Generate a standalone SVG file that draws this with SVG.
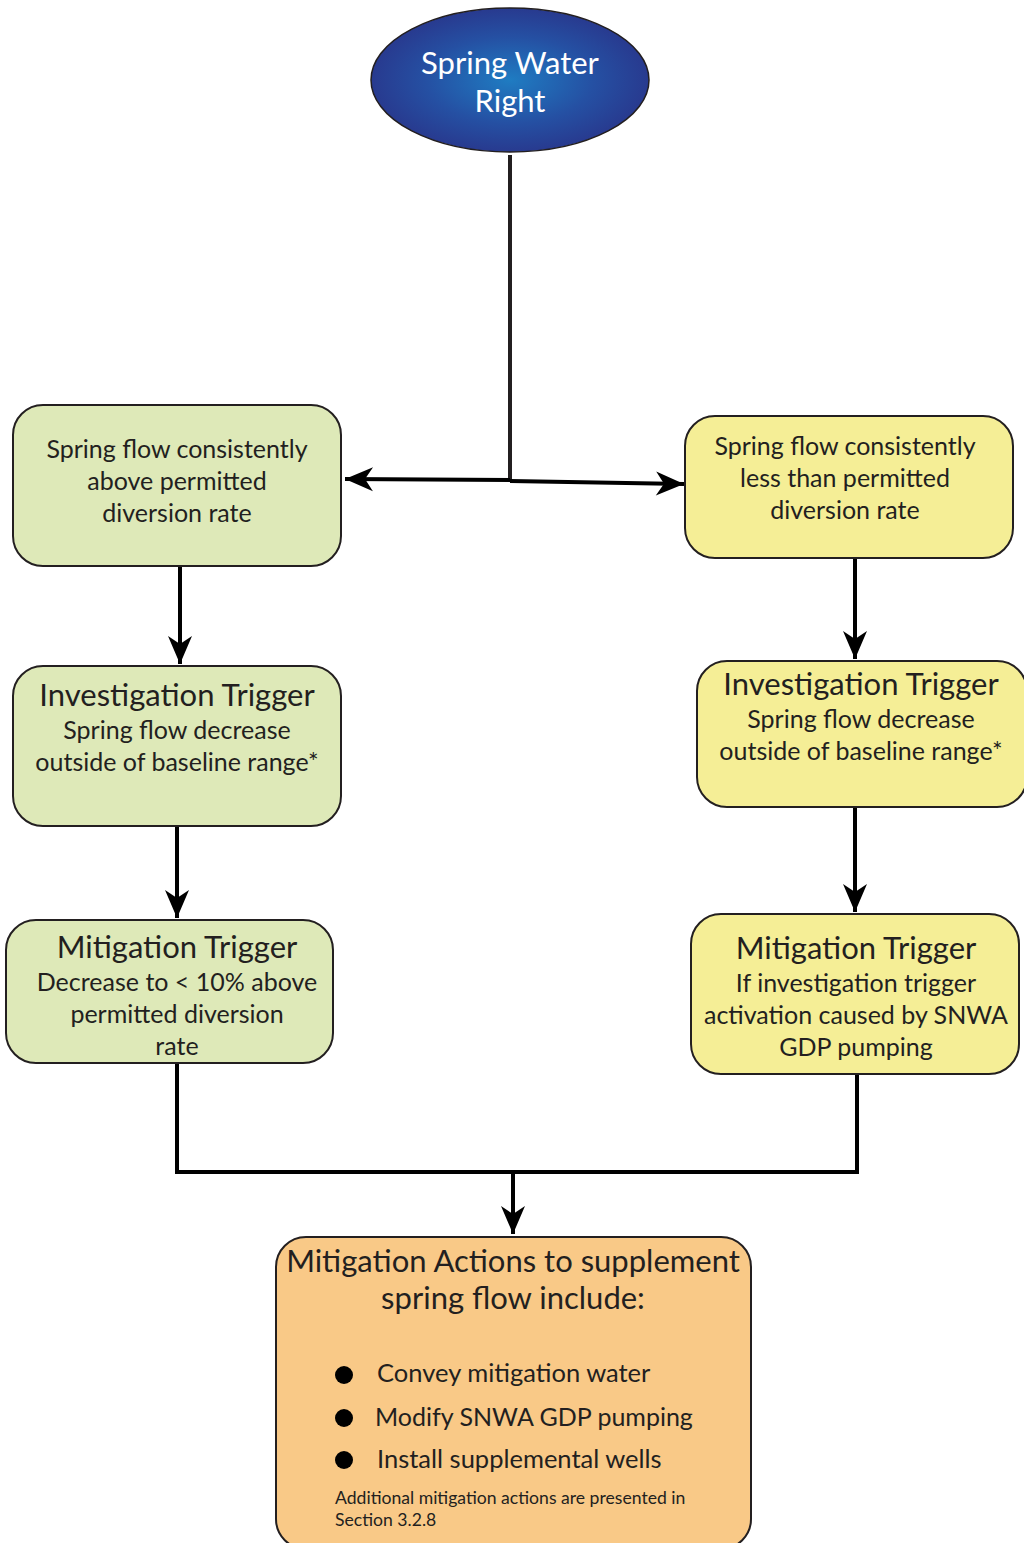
<svg xmlns="http://www.w3.org/2000/svg" width="1024" height="1543" viewBox="0 0 1024 1543">
<defs>
<radialGradient id="blue" cx="50%" cy="50%" r="50%">
<stop offset="0" stop-color="#1f7cc2"/>
<stop offset="0.6" stop-color="#2550a3"/>
<stop offset="1" stop-color="#283a8f"/>
</radialGradient>
<marker id="ah" viewBox="-30 -13 32 26" markerWidth="32" markerHeight="26" refX="0" refY="0" orient="auto" markerUnits="userSpaceOnUse">
<path d="M0,0 L-28,-12 L-20,0 L-28,12 Z" fill="#000"/>
</marker>
<style>
.t{font-family:Lato,"Open Sans","Liberation Sans",sans-serif;fill:#231f20;text-anchor:middle}
.b{font-size:25px}
.h{font-size:31px}
.g{fill:#dee9b8;stroke:#231f20;stroke-width:2}
.y{fill:#f5ee96;stroke:#231f20;stroke-width:2}
.o{fill:#f9c987;stroke:#231f20;stroke-width:2}
.c{stroke:#000;stroke-width:4;fill:none}
</style>
</defs>
<rect width="1024" height="1543" fill="#fff"/>
<g id="connectors">
<line class="c" x1="510" y1="155" x2="510" y2="481" style="stroke:#231f20"/>
<line class="c" x1="510" y1="480" x2="345" y2="479" marker-end="url(#ah)"/>
<line class="c" x1="510" y1="481" x2="684" y2="484" marker-end="url(#ah)"/>
<line class="c" x1="180" y1="566" x2="180" y2="664" marker-end="url(#ah)"/>
<line class="c" x1="177" y1="826" x2="177" y2="918" marker-end="url(#ah)"/>
<line class="c" x1="855" y1="558" x2="855" y2="659" marker-end="url(#ah)"/>
<line class="c" x1="855" y1="807" x2="855" y2="912" marker-end="url(#ah)"/>
<polyline class="c" points="177,1063 177,1172 857,1172 857,1074"/>
<line class="c" x1="513" y1="1172" x2="513" y2="1234" marker-end="url(#ah)"/>
</g>
<g id="spring-water-right">
<ellipse cx="510" cy="80" rx="139" ry="72" fill="url(#blue)" stroke="#231f20" stroke-width="1.5"/>
<text class="t h" x="510" y="74" style="fill:#fff">Spring Water</text>
<text class="t h" x="510" y="112" style="fill:#fff">Right</text>
</g>
<g id="left-condition">
<rect class="g" x="13" y="405" width="328" height="161" rx="30"/>
<text class="t b" x="177" y="458">Spring flow consistently</text>
<text class="t b" x="177" y="490">above permitted</text>
<text class="t b" x="177" y="522">diversion rate</text>
</g>
<g id="right-condition">
<rect class="y" x="685" y="416" width="328" height="142" rx="30"/>
<text class="t b" x="845" y="455">Spring flow consistently</text>
<text class="t b" x="845" y="487">less than permitted</text>
<text class="t b" x="845" y="519">diversion rate</text>
</g>
<g id="left-investigation">
<rect class="g" x="13" y="666" width="328" height="160" rx="30"/>
<text class="t h" x="177" y="706">Investigation Trigger</text>
<text class="t b" x="177" y="739">Spring flow decrease</text>
<text class="t b" x="177" y="771">outside of baseline range*</text>
</g>
<g id="right-investigation">
<rect class="y" x="697" y="661" width="330" height="146" rx="30"/>
<text class="t h" x="861" y="695">Investigation Trigger</text>
<text class="t b" x="861" y="728">Spring flow decrease</text>
<text class="t b" x="861" y="760">outside of baseline range*</text>
</g>
<g id="left-mitigation">
<rect class="g" x="6" y="920" width="327" height="143" rx="30"/>
<text class="t h" x="177" y="958">Mitigation Trigger</text>
<text class="t b" x="177" y="991">Decrease to &lt; 10% above</text>
<text class="t b" x="177" y="1023">permitted diversion</text>
<text class="t b" x="177" y="1055">rate</text>
</g>
<g id="right-mitigation">
<rect class="y" x="691" y="914" width="328" height="160" rx="30"/>
<text class="t h" x="856" y="959">Mitigation Trigger</text>
<text class="t b" x="856" y="992">If investigation trigger</text>
<text class="t b" x="856" y="1024">activation caused by SNWA</text>
<text class="t b" x="856" y="1056">GDP pumping</text>
</g>
<g id="mitigation-actions">
<rect class="o" x="276" y="1237" width="475" height="312" rx="30"/>
<text class="t h" x="513" y="1272">Mitigation Actions to supplement</text>
<text class="t h" x="513" y="1309">spring flow include:</text>
<circle cx="344" cy="1375" r="9" fill="#000"/>
<circle cx="344" cy="1418" r="9" fill="#000"/>
<circle cx="344" cy="1460" r="9" fill="#000"/>
<text class="t" x="377" y="1382" style="text-anchor:start;font-size:25.5px">Convey mitigation water</text>
<text class="t" x="375" y="1426" style="text-anchor:start;font-size:25px">Modify SNWA GDP pumping</text>
<text class="t" x="377" y="1468" style="text-anchor:start;font-size:25.5px">Install supplemental wells</text>
<text class="t" x="335" y="1504" style="text-anchor:start;font-size:17.6px">Additional mitigation actions are presented in</text>
<text class="t" x="335" y="1526" style="text-anchor:start;font-size:17.6px">Section 3.2.8</text>
</g>
</svg>
